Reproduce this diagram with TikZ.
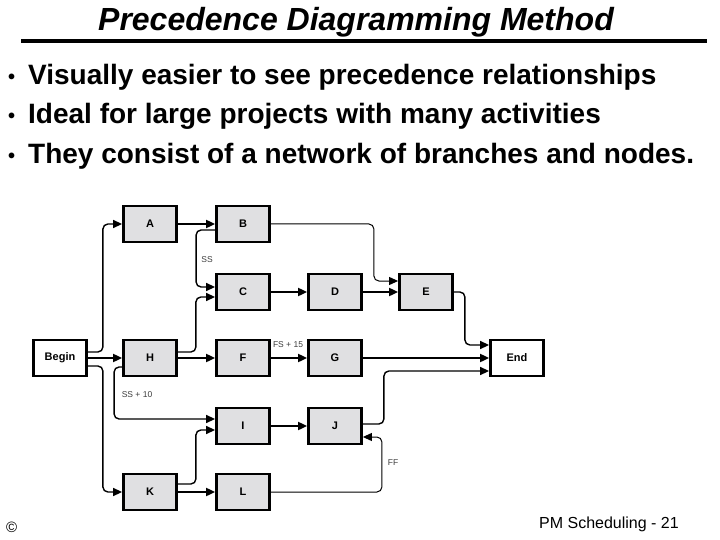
\documentclass[tikz,border=0pt]{standalone}
\usepackage{fontspec}
\setmainfont{Liberation Sans}
\usepackage{xcolor}
\usepackage{tikz}
\usetikzlibrary{arrows.meta}
\definecolor{boxgray}{RGB}{224,224,226}
\definecolor{labelgray}{RGB}{60,60,60}
\newcommand{\dotmark}{\raisebox{1pt}{\fontsize{20}{20}\selectfont •}\hspace{13pt}}

\tikzset{
  act/.style={draw, line width=2.8pt, fill=boxgray, minimum width=53pt, minimum height=36pt,
    inner sep=0pt, font=\bfseries\fontsize{11}{13}\selectfont},
  milestone/.style={act, fill=white},
  link/.style={line width=1.9pt, -{Triangle[length=9pt,width=8pt]}},
  elbow/.style={line width=1.4pt, rounded corners=5pt, -{Triangle[length=9pt,width=8pt]}},
  thinelbow/.style={elbow, line width=1pt},
  rel/.style={font=\fontsize{8.5}{10}\selectfont, text=labelgray, inner sep=1pt},
  bullet/.style={anchor=base west, font=\bfseries\fontsize{28}{32}\selectfont, inner sep=0pt}
}

\begin{document}
\begin{tikzpicture}[x=1pt,y=-1pt]
			\useasboundingbox (0,0) rectangle (720,540);
			
			% title
			\node[anchor=base, font=\bfseries\itshape\fontsize{32}{36}\selectfont] (title) at (356,31) {Precedence Diagramming Method};
			\draw[line width=4pt] (21,41) -- (707,41);
			
			% bullets
			\node[bullet] (pt1) at (8,84.5) {\dotmark Visually easier to see precedence relationships};
			\node[bullet] (pt2) at (8,124) {\dotmark Ideal for large projects with many activities};
			\node[bullet] (pt3) at (8,163.5) {\dotmark They consist of a network of branches and nodes.};
			
			% activities
			\node[milestone] (Begin) at (60,358) {Begin};
			\node[act] (A) at (150,224) {A};
			\node[act] (B) at (243,224) {B};
			\node[act] (C) at (243,292) {C};
			\node[act] (D) at (335,292) {D};
			\node[act] (E) at (426,292) {E};
			\node[act] (H) at (150,358) {H};
			\node[act] (F) at (243,358) {F};
			\node[act] (G) at (335,358) {G};
			\node[act] (I) at (243,426) {I};
			\node[act] (J) at (335,426) {J};
			\node[act] (K) at (150,492) {K};
			\node[act] (L) at (243,492) {L};
			\node[milestone] (End) at (517,358) {End};
			
			% straight links
			\draw[link] (A) -- (B);
			\draw[link] (C) -- (D);
			\draw[link] (D) -- (E);
			\draw[link] (Begin) -- (H);
			\draw[link] (H) -- (F);
			\draw[link] (F) -- (G);
			\draw[link] (G) -- (End);
			\draw[link] (I) -- (J);
			\draw[link] (K) -- (L);
			
			% bent links
			\draw[elbow] ([yshift=6pt]Begin.east) -- ++(15,0) |- (A.west);
			\draw[elbow] ([yshift=-8pt]Begin.east) -- ++(15,0) |- (K.west);
			\draw[elbow] ([yshift=-6pt]B.west) -- ++(-19,0) |- ([yshift=5pt]C.west);
			\draw[elbow] ([yshift=6pt]H.east) -- ++(18,0) |- ([yshift=-5pt]C.west);
			\draw[thinelbow] (B.east) -- ++(103,0) |- ([yshift=11pt]E.west);
			\draw[elbow] (E.east) -- ++(11,0) |- ([yshift=13pt]End.west);
			\draw[elbow] ([yshift=2pt]J.east) -- ++(21,0) |- ([yshift=-13pt]End.west);
			\draw[elbow] ([yshift=-9pt]H.west) -- ++(-8,0) |- ([yshift=7pt]I.west);
			\draw[elbow] ([yshift=8pt]K.east) -- ++(18,0) |- ([yshift=-4pt]I.west);
			\draw[thinelbow] (L.east) -- ++(111,0) |- ([yshift=-11pt]J.east);
			
			% relation labels
			\node[rel] (ss) at (207,260) {SS};
			\node[rel] (fs) at (288,345) {FS + 15};
			\node[rel] (ssten) at (137,395) {SS + 10};
			\node[rel] (ff) at (393,463) {FF};
			
			% footer
			\node[anchor=base west, font=\fontsize{15}{18}\selectfont, inner sep=0pt] (copy) at (6,532) {©};
			\node[anchor=base east, font=\fontsize{16}{19}\selectfont, inner sep=0pt] (page) at (679,528) {PM Scheduling - 21};
		\end{tikzpicture}
\end{document}
